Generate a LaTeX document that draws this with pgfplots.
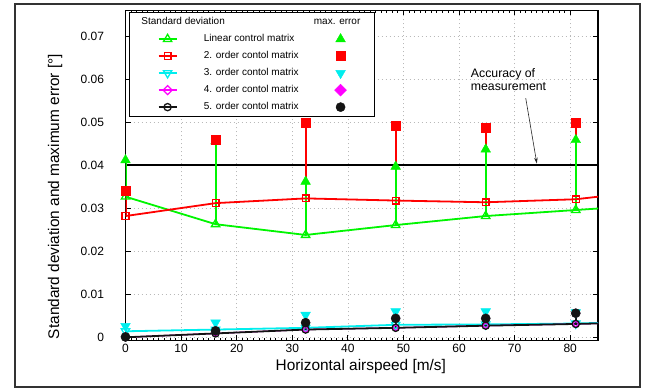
\documentclass[border=0pt]{standalone}
\usepackage{pgfplots}
\pgfplotsset{compat=1.18}
\usepackage{pgfplotstable}
\usepackage{fontspec}
\setmainfont{Liberation Sans}
\usetikzlibrary{arrows.meta}

\definecolor{cgreen}{RGB}{0,245,0}
\definecolor{cred}{RGB}{255,0,0}
\definecolor{ccyan}{RGB}{0,238,238}
\definecolor{cmag}{RGB}{255,0,255}
\definecolor{cblack}{RGB}{20,20,20}

% x, standard deviation, maximum error
\pgfplotstableread{
x std max
0    0.0327 0.0412
16.2 0.0263 0.0456
32.4 0.0238 0.0362
48.6 0.0261 0.0397
64.8 0.0282 0.0437
81.0 0.0296 0.0459
97.2 0.0310 0.0310
}\linear
\pgfplotstableread{
x std max
0    0.0282 0.0341
16.2 0.0312 0.0459
32.4 0.0323 0.0499
48.6 0.0318 0.0491
64.8 0.0314 0.0488
81.0 0.0321 0.0498
97.2 0.0345 0.0345
}\second
\pgfplotstableread{
x std max
0    0.0014 0.0026
16.2 0.0018 0.0034
32.4 0.0022 0.0052
48.6 0.0029 0.0060
64.8 0.0030 0.0060
81.0 0.0032 0.0058
97.2 0.0038 0.0038
}\third
\pgfplotstableread{
x std max
0    0.0000 0.0001
16.2 0.0009 0.0015
32.4 0.0018 0.0034
48.6 0.0022 0.0044
64.8 0.0027 0.0044
81.0 0.0031 0.0056
97.2 0.0036 0.0036
}\fourth
\pgfplotstableread{
x std max
0    0.0000 0.0001
16.2 0.0009 0.0015
32.4 0.0018 0.0034
48.6 0.0022 0.0044
64.8 0.0027 0.0044
81.0 0.0031 0.0056
97.2 0.0036 0.0036
}\fifth

\pgfplotsset{
  % legend image: line with open marker, and (overlay) the filled max-error marker
  stdleg/.style 2 args={legend image code/.code={%
    \path (0pt,0pt) (46pt,0pt);
    \draw[mark repeat=2,mark phase=2,line width=2.6pt,#1] plot coordinates {(28pt,0pt)(37pt,0pt)(46pt,0pt)};
    \draw[overlay, only marks, line width=0.4pt, #2] plot coordinates {(210pt,0pt)};}},
  vbar/.style={forget plot, line width=2pt, draw=#1, color=#1, unbounded coords=jump},
}

\begin{document}
\begin{tikzpicture}
\useasboundingbox (0pt,0pt) rectangle (647pt,388pt);
\draw[line width=1.3pt, black!80] (15pt,1pt) rectangle (640pt,384pt);
\begin{axis}[
  at={(125.5pt,47.7pt)}, anchor=south west,
  scale only axis, width=472.5pt, height=329.8pt,
  xmin=0, xmax=85, ymin=-0.0007, ymax=0.076,
  xtick={0,10,20,30,40,50,60,70,80},
  ytick={0,0.01,0.02,0.03,0.04,0.05,0.06,0.07},
  minor x tick num=9,
  tick align=inside,
  major tick length=5pt, minor tick length=2.5pt,
  tick style={line width=0.8pt, black},
  axis line style={line width=1.1pt, black},
  grid=major,
  major grid style={dash pattern=on 1pt off 3pt, line width=0.7pt, gray!55},
  scaled y ticks=false,
  yticklabel style={/pgf/number format/fixed, /pgf/number format/precision=2, xshift=-18pt},
  /pgf/number format/assume math mode=true,
  ticklabel style={font=\fontsize{12}{14}\selectfont},
  xlabel={Horizontal airspeed [m/s]},
  ylabel={Standard deviation and maximum error [°]},
  label style={font=\fontsize{15.4}{18}\selectfont},
  xlabel style={at={(axis description cs:0.498,-0.0797)}, anchor=center},
  ylabel style={at={(axis description cs:-0.149,0.436)}, anchor=center},
  legend columns=1,
  legend style={
    at={(axis description cs:0.0080,0.9940)}, anchor=north west,
    draw=black, line width=0.8pt, fill=white,
    font=\fontsize{10}{12}\selectfont,
    inner xsep=0pt, inner ysep=4pt,
    nodes={inner sep=0pt, text height=8pt, text depth=2.5pt},
    cells={anchor=west},
    row sep=6.5pt, column sep=0pt,
  },
]
% accuracy of measurement
\addplot[black, line width=1.8pt, forget plot] coordinates {(0,0.04) (85,0.04)};

% vertical lines from standard deviation to maximum error
\addplot[vbar=cred] coordinates {(0,0.0282)(0,0.0341) (16.2,nan) (16.2,0.0312)(16.2,0.0459) (32.4,nan)
  (32.4,0.0323)(32.4,0.0499) (48.6,nan) (48.6,0.0318)(48.6,0.0491) (64.8,nan)
  (64.8,0.0314)(64.8,0.0488) (81,nan) (81,0.0321)(81,0.0498)};
\addplot[vbar=cgreen] coordinates {(0,0.0327)(0,0.0412) (16.2,nan) (16.2,0.0263)(16.2,0.0456) (32.4,nan)
  (32.4,0.0238)(32.4,0.0362) (48.6,nan) (48.6,0.0261)(48.6,0.0397) (64.8,nan)
  (64.8,0.0282)(64.8,0.0437) (81,nan) (81,0.0296)(81,0.0459)};
\addplot[vbar=ccyan] coordinates {(0,0.0014)(0,0.0026) (16.2,nan) (16.2,0.0018)(16.2,0.0034) (32.4,nan)
  (32.4,0.0022)(32.4,0.0052) (48.6,nan) (48.6,0.0029)(48.6,0.0060) (64.8,nan)
  (64.8,0.0030)(64.8,0.0060) (81,nan) (81,0.0032)(81,0.0058)};
\addplot[vbar=cblack] coordinates {(0,0.0000)(0,0.0001) (16.2,nan) (16.2,0.0009)(16.2,0.0015) (32.4,nan)
  (32.4,0.0018)(32.4,0.0034) (48.6,nan) (48.6,0.0022)(48.6,0.0044) (64.8,nan)
  (64.8,0.0027)(64.8,0.0044) (81,nan) (81,0.0031)(81,0.0056)};

\addlegendimage{empty legend}
\addlegendentry{\makebox[197pt][l]{\hspace*{-36.4pt}\makebox[172.4pt][l]{Standard deviation}max. error}}

% Linear
\addplot[color=cgreen, line width=1.8pt, mark=triangle, mark size=4.8pt,
  mark options={solid, fill=white, line width=1.3pt},
  stdleg={}{mark=triangle*, mark size=5.6pt, mark options={solid, draw=cgreen, fill=cgreen}}]
  table[x=x, y=std] {\linear};
\addlegendentry{\makebox[197pt][l]{\hspace*{26pt}Linear control matrix}}
\addplot[forget plot, only marks, color=cgreen, mark=triangle*, mark size=5.6pt, mark options={fill=cgreen}]
  table[x=x, y=max] {\linear};

% 2nd order
\addplot[color=cred, line width=1.8pt, mark=square, mark size=3.4pt,
  mark options={solid, fill=white, line width=1.3pt},
  stdleg={}{mark=square*, mark size=4.5pt, mark options={solid, draw=cred, fill=cred}}]
  table[x=x, y=std] {\second};
\addlegendentry{\makebox[197pt][l]{\hspace*{26pt}2. order contol matrix}}
\addplot[forget plot, only marks, color=cred, mark=square*, mark size=4.5pt, mark options={fill=cred}]
  table[x=x, y=max] {\second};

% 3rd order
\addplot[color=ccyan, line width=1.8pt, mark=triangle, mark size=4.8pt,
  mark options={solid, rotate=180, fill=white, line width=1.3pt},
  stdleg={}{mark=triangle*, mark size=5.6pt, mark options={solid, rotate=180, draw=ccyan, fill=ccyan}}]
  table[x=x, y=std] {\third};
\addlegendentry{\makebox[197pt][l]{\hspace*{26pt}3. order contol matrix}}
\addplot[forget plot, only marks, color=ccyan, mark=triangle*, mark size=5.6pt, mark options={rotate=180, fill=ccyan}]
  table[x=x, y=max] {\third};

% 4th order (hidden under the 5th order in the plot)
\addplot[color=cmag, line width=1.2pt, mark=square, mark size=2.2pt,
  mark options={solid, rotate=45, fill=white, line width=1.2pt},
  stdleg={mark size=3.2pt}{mark=square*, mark size=4.2pt, mark options={solid, rotate=45, draw=cmag, fill=cmag}}]
  table[x=x, y=std] {\fourth};
\addlegendentry{\makebox[197pt][l]{\hspace*{26pt}4. order contol matrix}}
\addplot[forget plot, only marks, color=cmag, mark=square*, mark size=3pt, mark options={rotate=45, fill=cmag}]
  table[x=x, y=max] {\fourth};

% 5th order
\addplot[color=cblack, line width=1.8pt, mark=o, mark size=3.6pt,
  mark options={solid, fill=white, line width=1.3pt},
  stdleg={}{mark=*, mark size=4.6pt, mark options={solid, draw=cblack, fill=cblack}}]
  table[x=x, y=std] {\fifth};
\addlegendentry{\makebox[197pt][l]{\hspace*{26pt}5. order contol matrix}}
\addplot[forget plot, only marks, color=cblack, mark=*, mark size=4.6pt, mark options={fill=cblack}]
  table[x=x, y=max] {\fifth};

\node[anchor=west, align=left, inner sep=0pt, font=\fontsize{12.3}{13.3}\selectfont]
  at (axis cs:62.1,0.0600) {Accuracy of\\measurement};
\draw[-{Stealth[length=6pt,width=3.5pt]}, line width=0.6pt, black!85]
  (axis cs:72.0,0.0556) -- (axis cs:74.0,0.0404);
\end{axis}
\end{tikzpicture}
\end{document}
